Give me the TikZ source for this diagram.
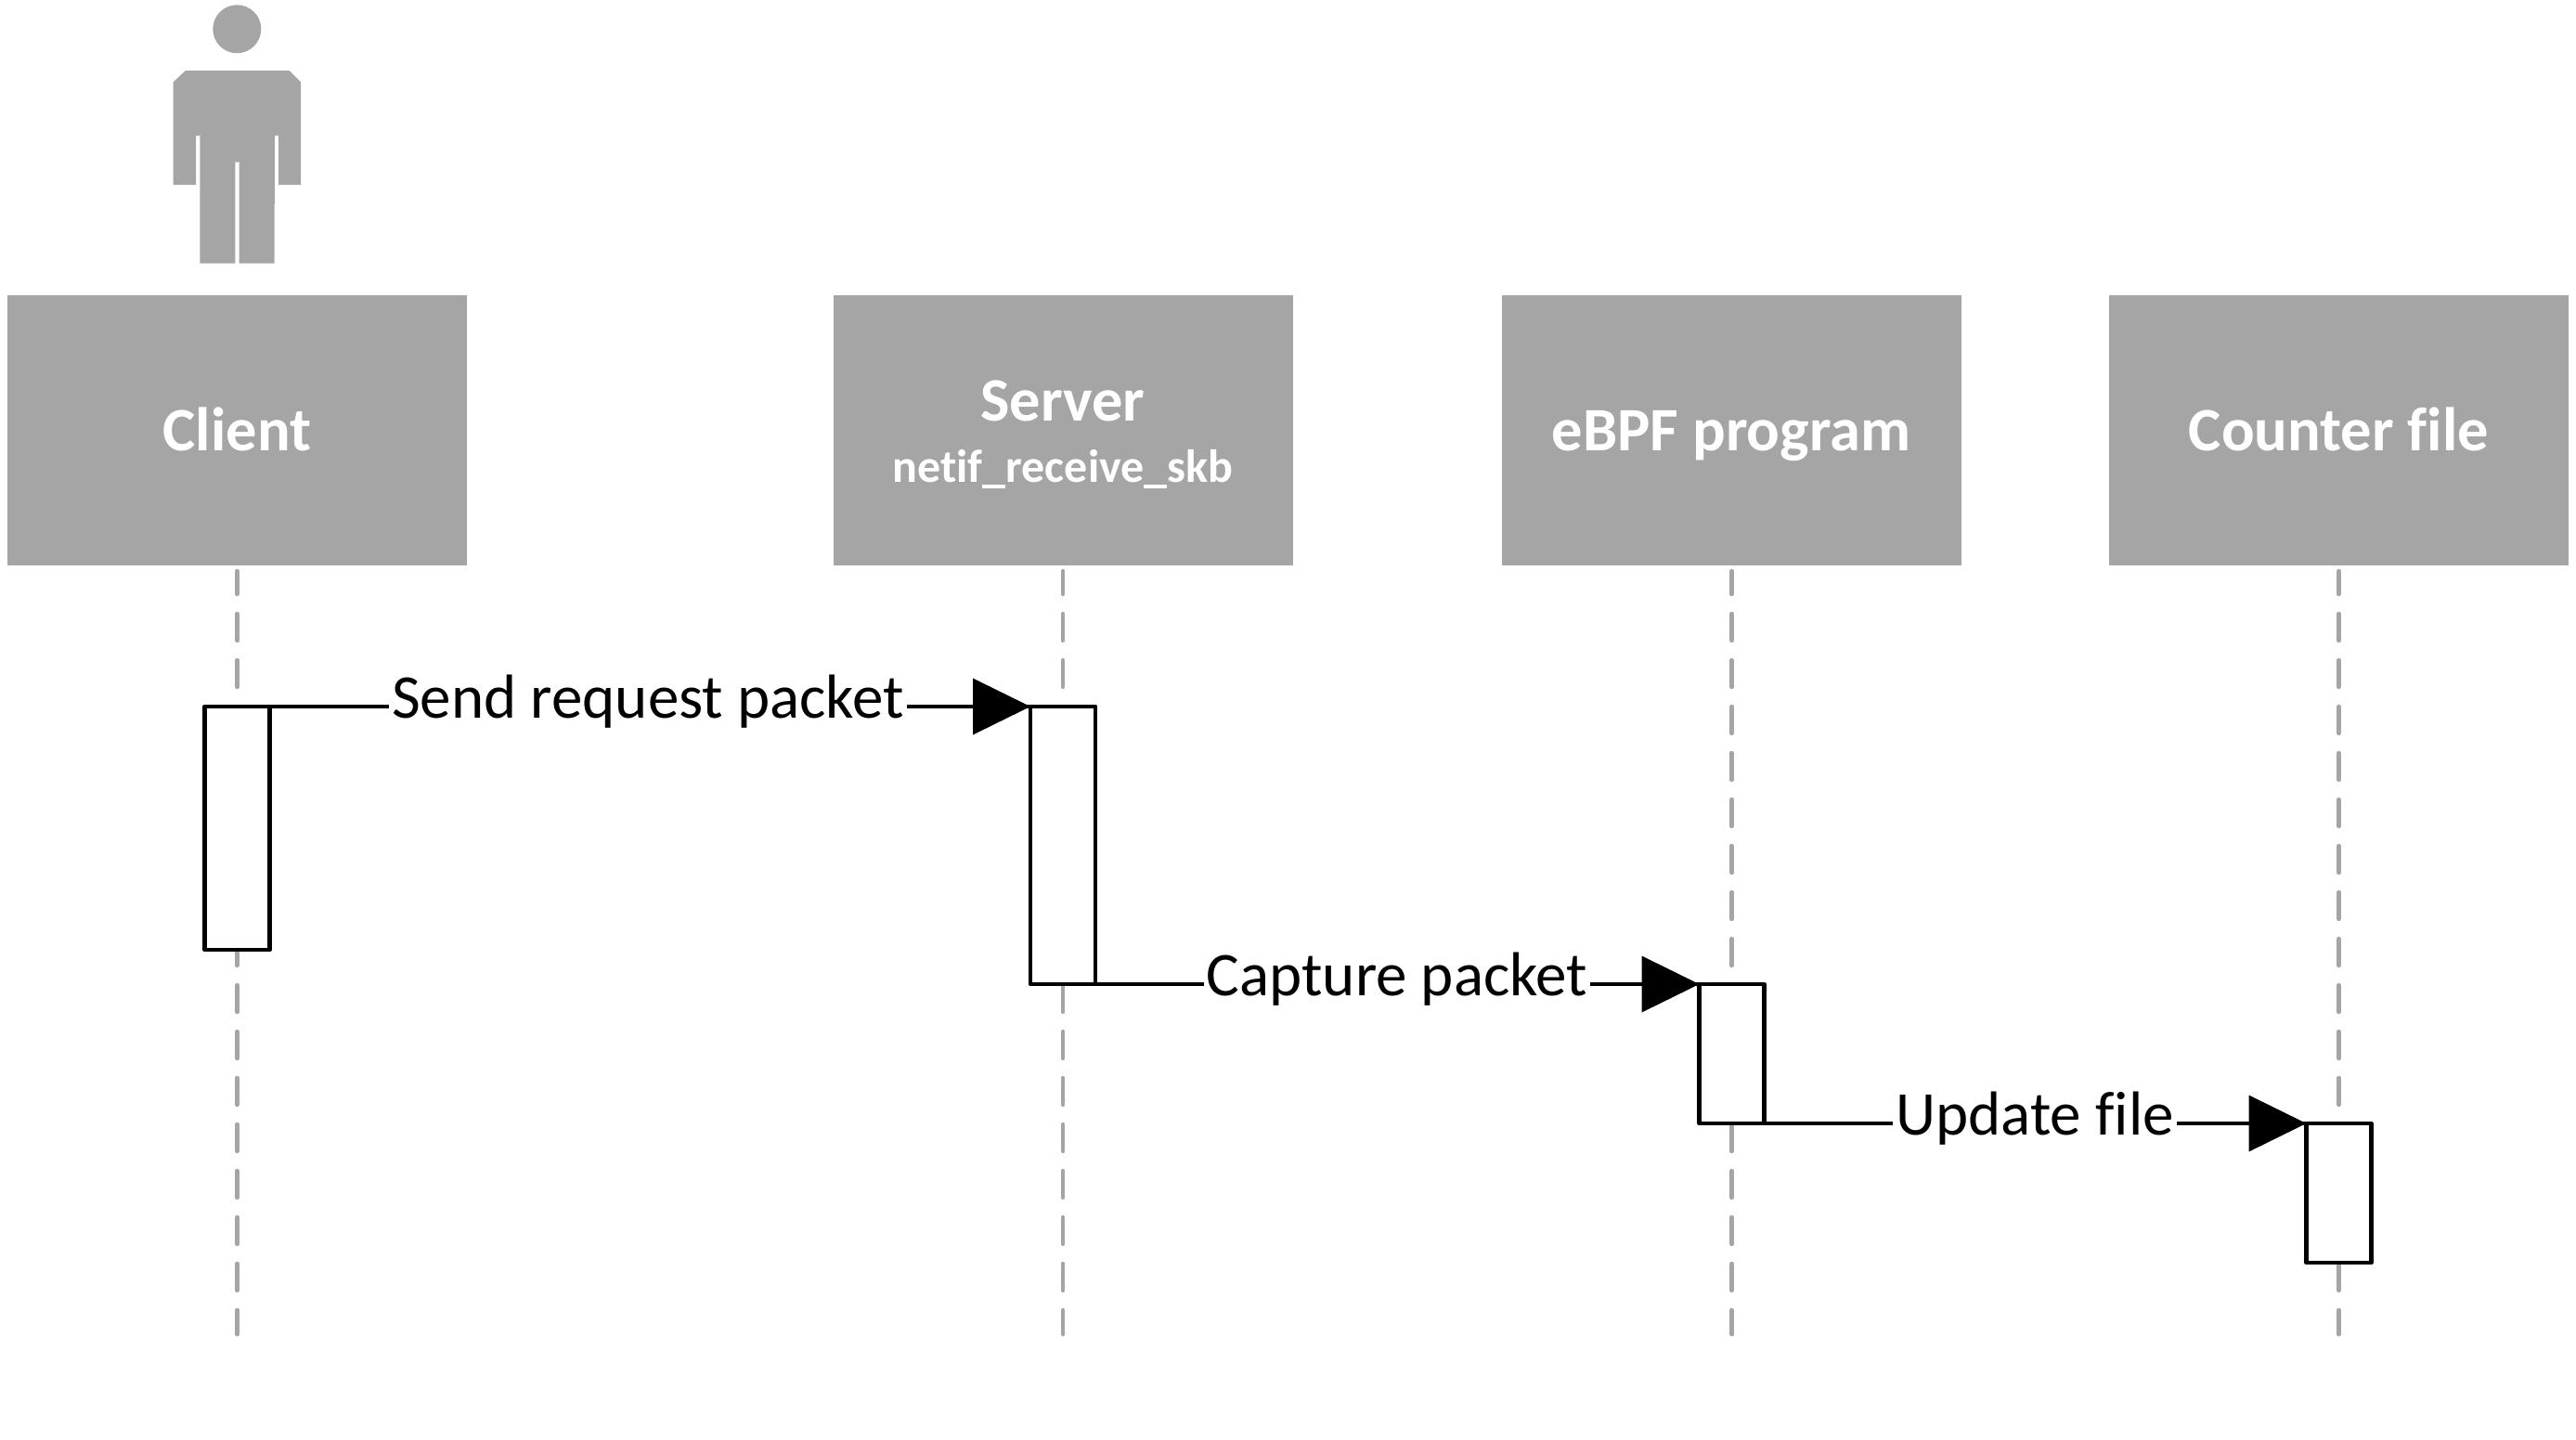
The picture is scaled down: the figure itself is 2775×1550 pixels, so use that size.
\documentclass[tikz,border=0pt]{standalone}
\usepackage{fontspec}
\setmainfont[Ligatures={NoCommon}]{Carlito}
\usetikzlibrary{calc}
\definecolor{hdr}{HTML}{A5A5A5}
\tikzset{
  x=1pt,y=-1pt,
  header/.style={fill=hdr,draw=none,minimum width=495pt,minimum height=291pt,inner sep=0pt,outer sep=0pt},
  htext/.style={anchor=base,inner sep=0pt,text=white,font=\fontsize{66.5}{66.5}\selectfont\bfseries},
  hsub/.style={anchor=base,inner sep=0pt,text=white,font=\fontsize{50}{50}\selectfont\bfseries},
  life/.style={draw=hdr,line width=4.3pt,line cap=round,dash pattern=on 29pt off 21pt,dash phase=4pt},
  act/.style={draw=black,fill=white,line width=4.4pt,line join=round,minimum width=70pt,inner sep=0pt,outer sep=0pt},
  msg/.style={draw=black,line width=4.4pt},
  tip/.style={fill=black,draw=none},
  lbl/.style={anchor=base,fill=white,inner xsep=3pt,inner ysep=1pt,font=\fontsize{67}{67}\selectfont}
}
\begin{document}
\begin{tikzpicture}
\useasboundingbox (0,0) rectangle (2775,1550);
\fill[hdr] (255.3,31.3) circle (26);
\fill[hdr] (200,76) -- (311.7,76) -- (324,88.3) -- (324,199) -- (300,199) -- (300,144.5) arc (0:180:2.1) -- (295.7,283.7) -- (257.7,283.7) -- (257.7,172.7) arc (0:180:2.2) -- (253.3,283.7) -- (215.3,283.7) -- (215.3,144.5) arc (0:180:2.1) -- (211,199) -- (186.7,199) -- (186.7,88.3) -- cycle;
\node[header] (client) at (255.5,463) {};
\node[header] (server) at (1145,463) {};
\node[header] (ebpf) at (1865,463) {};
\node[header] (counter) at (2519.5,463) {};
\node[htext] (tclient) at (255.5,485) {Client};
\node[htext] (tserver) at (1145,453) {Server};
\node[hsub] (tsub) at (1145,519) {netif\_receive\_skb};
\node[htext] (tebpf) at (1865,485) {eBPF program};
\node[htext] (tcounter) at (2519.5,485) {Counter file};
\coordinate (s1) at (255.5,615);
\coordinate (s2) at (1145,615);
\coordinate (s3) at (1865.5,615);
\coordinate (s4) at (2519.5,615);
\coordinate (e1) at (255.5,1437.25);
\coordinate (e2) at (1145,1437.25);
\coordinate (e3) at (1865.5,1437.25);
\coordinate (e4) at (2519.5,1437.25);
\draw[life] (s1) -- (e1);
\draw[life] (s2) -- (e2);
\draw[life] (s3) -- (e3);
\draw[life] (s4) -- (e4);
\node[act,minimum height=262pt] (a1) at (255.5,892) {};
\node[act,minimum height=299pt] (a2) at (1145,910.5) {};
\node[act,minimum height=150pt] (a3) at (1865.5,1135) {};
\node[act,minimum height=150pt] (a4) at (2519.5,1285) {};
\draw[msg] (a1.north east) -- (a2.north west);
\draw[msg] (a2.south east) -- (a3.north west);
\draw[msg] (a3.south east) -- (a4.north west);
\fill[tip] (a2.north west) -- ++(-62,-30.5) -- ++(0,61) -- cycle;
\fill[tip] (a3.north west) -- ++(-62,-30.5) -- ++(0,61) -- cycle;
\fill[tip] (a4.north west) -- ++(-62,-30.5) -- ++(0,61) -- cycle;
\node[lbl] (l1) at (698,773.5) {Send request packet};
\node[lbl] (l2) at (1505,1072.5) {Capture packet};
\node[lbl] (l3) at (2192,1222.5) {Update file};
\end{tikzpicture}
\end{document}
